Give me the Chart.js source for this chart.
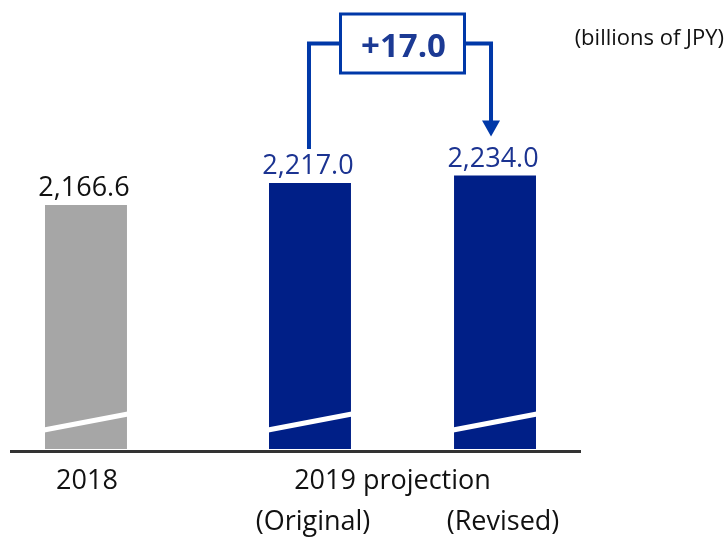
<!DOCTYPE html>
<html>
<head>
<meta charset="utf-8">
<script src="https://cdn.jsdelivr.net/npm/chart.js@4/dist/chart.umd.min.js"></script>
<style>
  html, body { margin: 0; padding: 0; background: #fff; }
  canvas { display: block; }
</style>
</head>
<body>
<canvas id="chart" width="727" height="537"></canvas>
<script>
// data (billions of JPY)
const categories = ['2018', '2019 projection'];
const actualAndOriginal = [2166.6, 2217.0];
const revised = [null, 2234.0];
const subLabels = ['(Original)', '(Revised)'];
const changeLabel = '+17.0';
const unitLabel = '(billions of JPY)';

// broken value axis: bars start at this value
const Y_MIN = 1611;
const Y_MAX = 2520;

const GRAY = '#A6A6A6';
const NAVY = '#001F87';
const BRACKET = '#0038A8';
const FONT = "'Open Sans', sans-serif";

const fmt = v => v.toLocaleString('en-US', { minimumFractionDigits: 1, maximumFractionDigits: 1 });

const overlay = {
    id: 'overlay',
    afterDatasetsDraw(chart) {
        const ctx = chart.ctx;
        const bars = [
            chart.getDatasetMeta(0).data[0],
            chart.getDatasetMeta(0).data[1],
            chart.getDatasetMeta(1).data[1]
        ];
        const values = [actualAndOriginal[0], actualAndOriginal[1], revised[1]];

        ctx.save();

        // axis break marks
        ctx.strokeStyle = '#fff';
        ctx.lineWidth = 5;
        bars.forEach(b => {
            ctx.beginPath();
            ctx.moveTo(b.x - b.width / 2 - 1, b.base - 19);
            ctx.lineTo(b.x + b.width / 2 + 1, b.base - 35);
            ctx.stroke();
        });

        // baseline
        ctx.strokeStyle = '#333';
        ctx.lineWidth = 3;
        ctx.beginPath();
        ctx.moveTo(10, bars[0].base + 2.5);
        ctx.lineTo(581, bars[0].base + 2.5);
        ctx.stroke();

        // value labels
        ctx.font = '27px ' + FONT;
        ctx.textAlign = 'center';
        ctx.textBaseline = 'alphabetic';
        bars.forEach((b, i) => {
            ctx.fillStyle = i === 0 ? '#111' : '#1B3391';
            ctx.fillText(fmt(values[i]), b.x - 2, b.y - 9);
        });

        // category labels
        ctx.fillStyle = '#111';
        ctx.fillText(categories[0], bars[0].x + 1, 489);
        ctx.fillText(categories[1], (bars[1].x + bars[2].x) / 2 - 10, 489);
        ctx.fillText(subLabels[0], bars[1].x + 3, 530);
        ctx.fillText(subLabels[1], bars[2].x + 8, 530);

        // unit
        ctx.font = '22px ' + FONT;
        ctx.textAlign = 'right';
        ctx.fillText(unitLabel, 724, 45);

        // change bracket
        const mid = (bars[1].x + bars[2].x) / 2;
        const boxW = 124, boxTop = 14, boxH = 59;
        const lineY = boxTop + boxH / 2;
        const xL = bars[1].x - 1;
        const xR = bars[2].x - 4;
        const topL = bars[1].y - 9 - 20 - 5;
        const tipR = bars[2].y - 9 - 20 - 10;

        ctx.strokeStyle = BRACKET;
        ctx.fillStyle = BRACKET;
        ctx.lineWidth = 4;
        ctx.lineJoin = 'miter';
        ctx.beginPath();
        ctx.moveTo(xL, topL);
        ctx.lineTo(xL, lineY);
        ctx.lineTo(mid - boxW / 2, lineY);
        ctx.stroke();

        ctx.beginPath();
        ctx.moveTo(mid + boxW / 2, lineY);
        ctx.lineTo(xR, lineY);
        ctx.lineTo(xR, tipR - 14);
        ctx.stroke();

        ctx.beginPath();
        ctx.moveTo(xR - 9, tipR - 16);
        ctx.lineTo(xR + 9, tipR - 16);
        ctx.lineTo(xR, tipR);
        ctx.closePath();
        ctx.fill();

        ctx.lineWidth = 3;
        ctx.strokeRect(mid - boxW / 2, boxTop, boxW, boxH);

        ctx.fillStyle = '#1C3A94';
        ctx.font = 'bold 33px ' + FONT;
        ctx.textAlign = 'center';
        ctx.fillText(changeLabel, mid + 1, 57);

        ctx.restore();
    }
};

new Chart(document.getElementById('chart'), {
    type: 'bar',
    data: {
        labels: categories,
        datasets: [{
            data: actualAndOriginal,
            backgroundColor: [GRAY, NAVY],
            base: Y_MIN,
            categoryPercentage: 1.652,
            barPercentage: 0.443,
            clip: false
        }, {
            data: revised,
            backgroundColor: NAVY,
            base: Y_MIN,
            categoryPercentage: 1.652,
            barPercentage: 0.443,
            clip: false
        }]
    },
    options: {
        responsive: false,
        animation: false,
        layout: { padding: { left: 66.5, right: 212.5, top: 50, bottom: 88 } },
        scales: {
            x: { display: false },
            y: { display: false, min: Y_MIN, max: Y_MAX }
        },
        plugins: {
            legend: { display: false },
            tooltip: { enabled: false }
        }
    },
    plugins: [overlay]
});
</script>
</body>
</html>
